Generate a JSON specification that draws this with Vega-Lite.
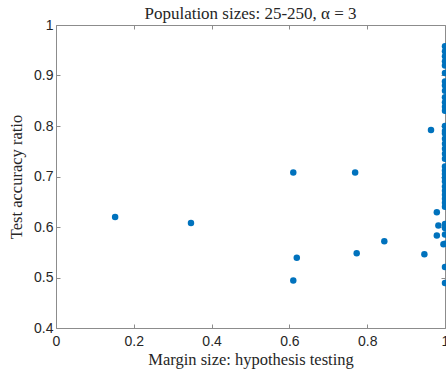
{
  "$schema": "https://vega.github.io/schema/vega-lite/v6.json",
  "autosize": "none",
  "width": 389,
  "height": 303,
  "padding": {"left": 56, "top": 25, "right": 1, "bottom": 47},
  "background": "white",
  "config": {
    "view": {"stroke": null},
    "axis": {
      "grid": false,
      "domainColor": "#8c8c8c",
      "tickColor": "#8c8c8c",
      "tickSize": -4,
      "labelFont": "Liberation Sans",
      "labelFontSize": 14,
      "labelColor": "#262626",
      "titleFont": "Liberation Serif",
      "titleFontSize": 16.5,
      "titleFontWeight": "normal",
      "titleColor": "#262626"
    }
  },
  "title": {
    "text": "Population sizes: 25-250, α = 3",
    "font": "Liberation Serif",
    "fontSize": 17,
    "fontWeight": "normal",
    "color": "#262626",
    "anchor": "middle",
    "frame": "group",
    "offset": -5
  },
  "data": {
    "values": [
      {"m": 0.152, "r": 0.620},
      {"m": 0.347, "r": 0.608},
      {"m": 0.610, "r": 0.708},
      {"m": 0.769, "r": 0.708},
      {"m": 0.619, "r": 0.539},
      {"m": 0.773, "r": 0.548},
      {"m": 0.844, "r": 0.572},
      {"m": 0.947, "r": 0.546},
      {"m": 0.610, "r": 0.494},
      {"m": 0.979, "r": 0.629},
      {"m": 0.983, "r": 0.603},
      {"m": 0.979, "r": 0.583},
      {"m": 0.964, "r": 0.792},
      {"m": 0.996, "r": 0.566},
      {"m": 1, "r": 0.958},
      {"m": 1, "r": 0.948},
      {"m": 1, "r": 0.938},
      {"m": 1, "r": 0.928},
      {"m": 1, "r": 0.920},
      {"m": 1, "r": 0.905},
      {"m": 1, "r": 0.888},
      {"m": 1, "r": 0.880},
      {"m": 1, "r": 0.870},
      {"m": 1, "r": 0.857},
      {"m": 1, "r": 0.847},
      {"m": 1, "r": 0.838},
      {"m": 1, "r": 0.830},
      {"m": 1, "r": 0.800},
      {"m": 1, "r": 0.790},
      {"m": 1, "r": 0.785},
      {"m": 1, "r": 0.775},
      {"m": 1, "r": 0.765},
      {"m": 1, "r": 0.755},
      {"m": 1, "r": 0.745},
      {"m": 1, "r": 0.735},
      {"m": 1, "r": 0.720},
      {"m": 1, "r": 0.712},
      {"m": 1, "r": 0.705},
      {"m": 1, "r": 0.697},
      {"m": 1, "r": 0.690},
      {"m": 1, "r": 0.680},
      {"m": 1, "r": 0.672},
      {"m": 1, "r": 0.664},
      {"m": 1, "r": 0.656},
      {"m": 1, "r": 0.648},
      {"m": 1, "r": 0.640},
      {"m": 1, "r": 0.606},
      {"m": 1, "r": 0.598},
      {"m": 1, "r": 0.585},
      {"m": 1, "r": 0.567},
      {"m": 1, "r": 0.521},
      {"m": 1, "r": 0.489}
    ]
  },
  "layer": [
    {
      "mark": {"type": "point", "filled": true, "opacity": 1, "size": 42, "color": "#0072BD"},
      "encoding": {
        "x": {"field": "m", "type": "quantitative", "scale": {"domain": [0, 1], "nice": false, "zero": false},
          "axis": {"title": "Margin size: hypothesis testing", "values": [0, 0.2, 0.4, 0.6, 0.8, 1], "format": "~g", "labelPadding": 10, "titlePadding": 3, "labelFlush": false}},
        "y": {"field": "r", "type": "quantitative", "scale": {"domain": [0.4, 1], "nice": false, "zero": false},
          "axis": {"title": "Test accuracy ratio", "values": [0.4, 0.5, 0.6, 0.7, 0.8, 0.9, 1], "format": "~g", "labelPadding": 7, "titlePadding": 9, "labelFlush": false}}
      }
    },
    {
      "mark": {"type": "point", "opacity": 0},
      "encoding": {
        "x": {"field": "m", "type": "quantitative", "scale": {"domain": [0, 1], "nice": false, "zero": false},
          "axis": {"orient": "top", "labels": false, "title": null, "values": [0, 0.2, 0.4, 0.6, 0.8, 1]}},
        "y": {"field": "r", "type": "quantitative", "scale": {"domain": [0.4, 1], "nice": false, "zero": false},
          "axis": {"orient": "right", "labels": false, "title": null, "values": [0.4, 0.5, 0.6, 0.7, 0.8, 0.9, 1]}}
      }
    }
  ],
  "resolve": {"axis": {"x": "independent", "y": "independent"}}
}
